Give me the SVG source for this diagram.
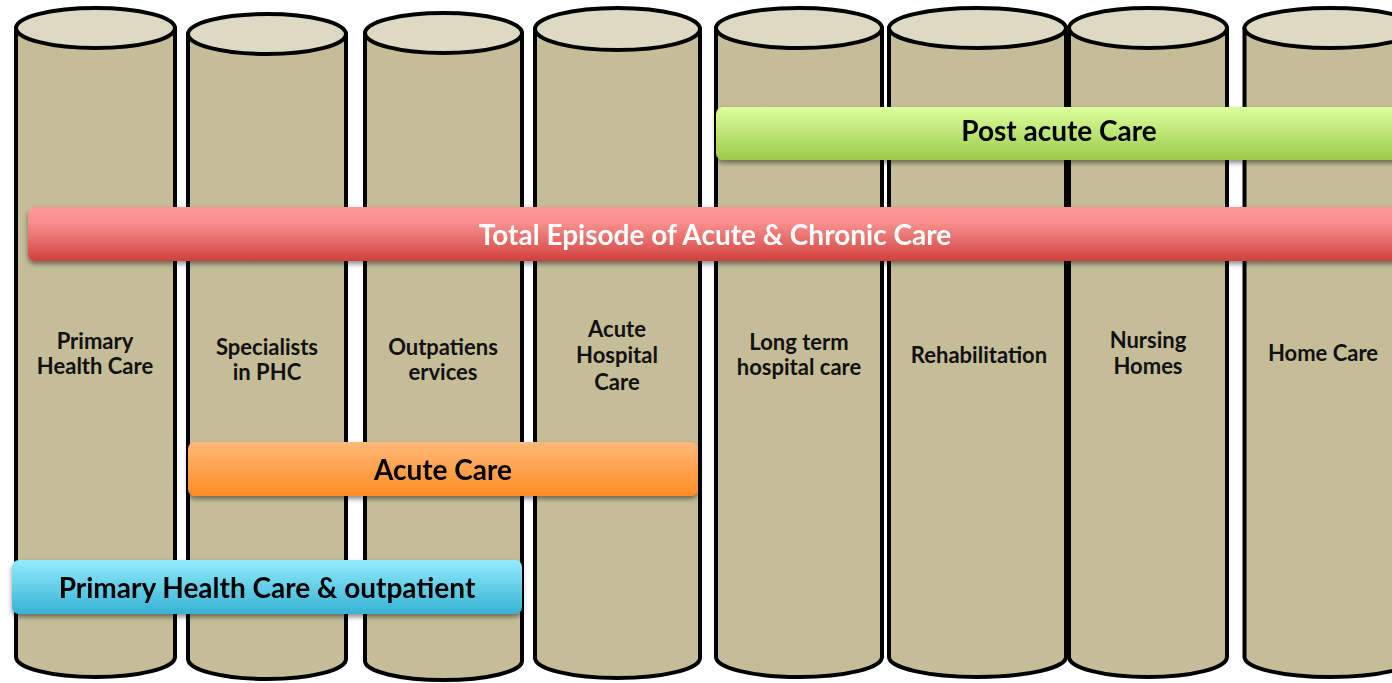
<svg xmlns="http://www.w3.org/2000/svg" width="1392" height="683" viewBox="0 0 1392 683">
<style>
.body{fill:#c4bd97;stroke:#000;stroke-width:4;stroke-linejoin:round}
.top{fill:#ddd9c3;stroke:#000;stroke-width:4}
.lbl{font-family:Lato,"Liberation Sans",sans-serif;font-weight:bold;font-size:22px;fill:#111;text-anchor:middle}
.bar{font-family:Lato,"Liberation Sans",sans-serif;font-weight:bold;font-size:28px;text-anchor:middle}
</style>
<defs>
<linearGradient id="gGreen" x1="0" y1="0" x2="0" y2="1"><stop offset="0" stop-color="#dcff9d"/><stop offset="1" stop-color="#9bca4a"/></linearGradient>
<linearGradient id="gRed" x1="0" y1="0" x2="0" y2="1"><stop offset="0" stop-color="#ff9a98"/><stop offset="0.3" stop-color="#f78f8c"/><stop offset="1" stop-color="#d1403e"/></linearGradient>
<linearGradient id="gOrange" x1="0" y1="0" x2="0" y2="1"><stop offset="0" stop-color="#ffb978"/><stop offset="1" stop-color="#ff8c24"/></linearGradient>
<linearGradient id="gBlue" x1="0" y1="0" x2="0" y2="1"><stop offset="0" stop-color="#92ebfc"/><stop offset="1" stop-color="#36b3d4"/></linearGradient>
<filter id="sh" x="-5%" y="-30%" width="110%" height="180%"><feDropShadow dx="0" dy="3" stdDeviation="2.5" flood-color="#000" flood-opacity="0.45"/></filter>
</defs>

<g id="cyl-primary">
<path class="body" d="M16,28 L16,657 A79.5,20 0 0 0 175,657 L175,28 Z"/>
<ellipse class="top" cx="95.5" cy="28" rx="79.5" ry="20"/>
<text class="lbl" x="95" y="349">Primary</text><text class="lbl" x="95" y="374">Health Care</text>
</g>
<g id="cyl-specialists">
<path class="body" d="M188,34 L188,659 A79,20 0 0 0 346,659 L346,34 Z"/>
<ellipse class="top" cx="267" cy="34" rx="79" ry="20"/>
<text class="lbl" x="267" y="355">Specialists</text><text class="lbl" x="267" y="380">in PHC</text>
</g>
<g id="cyl-outpatient">
<path class="body" d="M365,33 L365,661 A78.5,19 0 0 0 522,661 L522,33 Z"/>
<ellipse class="top" cx="443.5" cy="33" rx="78.5" ry="20"/>
<text class="lbl" x="443" y="355">Outpatiens</text><text class="lbl" x="443" y="380">ervices</text>
</g>
<g id="cyl-acute-hospital">
<path class="body" d="M535,29 L535,658 A82.5,20 0 0 0 700,658 L700,29 Z"/>
<ellipse class="top" cx="617.5" cy="29" rx="82.5" ry="21"/>
<text class="lbl" x="617" y="337">Acute</text><text class="lbl" x="617" y="363">Hospital</text><text class="lbl" x="617" y="390">Care</text>
</g>
<g id="cyl-longterm">
<path class="body" d="M716,28 L716,657 A83,20 0 0 0 882,657 L882,28 Z"/>
<ellipse class="top" cx="799" cy="28" rx="83" ry="20"/>
<text class="lbl" x="799" y="350">Long term</text><text class="lbl" x="799" y="375">hospital care</text>
</g>
<g id="cyl-rehab">
<path class="body" d="M889,28 L889,657 A88.5,20 0 0 0 1066,657 L1066,28 Z"/>
<ellipse class="top" cx="977.5" cy="28" rx="88.5" ry="20"/>
<text class="lbl" x="979" y="363">Rehabilitation</text>
</g>
<g id="cyl-nursing">
<path class="body" d="M1069,28 L1069,657 A79,20 0 0 0 1227,657 L1227,28 Z"/>
<ellipse class="top" cx="1148" cy="28" rx="79" ry="20"/>
<text class="lbl" x="1148" y="348">Nursing</text><text class="lbl" x="1148" y="374">Homes</text>
</g>
<g id="cyl-home">
<path class="body" d="M1244.5,28 L1244.5,657 A86,20 0 0 0 1416.5,657 L1416.5,28 Z"/>
<ellipse class="top" cx="1330.5" cy="28" rx="86" ry="20"/>
<text class="lbl" x="1323" y="361">Home Care</text>
</g>

<g id="bar-post-acute" filter="url(#sh)">
<rect x="716" y="107" width="700" height="53" rx="7" fill="url(#gGreen)"/>
<text class="bar" x="1059" y="141" fill="#000">Post acute Care</text>
</g>
<g id="bar-total" filter="url(#sh)">
<rect x="28" y="207" width="1390" height="54" rx="7" fill="url(#gRed)"/>
<text class="bar" x="715" y="245" fill="#fff">Total Episode of Acute &amp; Chronic Care</text>
</g>
<g id="bar-acute" filter="url(#sh)">
<rect x="188" y="442" width="510" height="54" rx="7" fill="url(#gOrange)"/>
<text class="bar" x="443" y="480" fill="#000">Acute Care</text>
</g>
<g id="bar-phc" filter="url(#sh)">
<rect x="12" y="560" width="510" height="54" rx="7" fill="url(#gBlue)"/>
<text class="bar" x="267" y="598" fill="#000">Primary Health Care &amp; outpatient</text>
</g>
<g id="connectors"/>
</svg>
